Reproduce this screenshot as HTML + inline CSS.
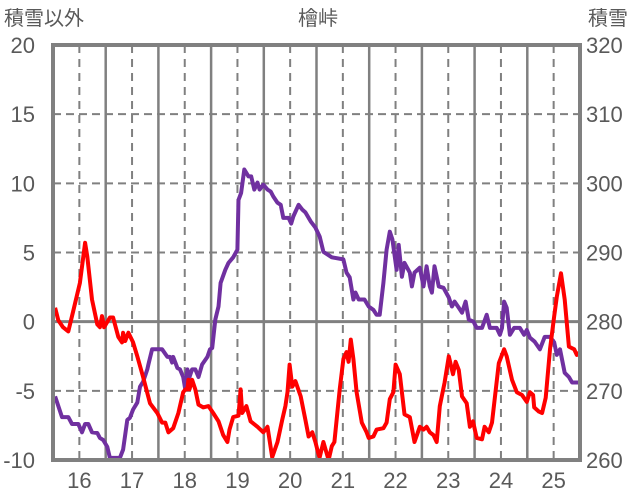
<!DOCTYPE html>
<html><head><meta charset="utf-8"><style>
html,body{margin:0;padding:0;background:#fff;}
svg{display:block;}
text{font-family:"Liberation Sans","Noto Sans CJK JP",sans-serif;fill:#595959;}
</style></head><body>
<svg id="chart" width="636" height="501" viewBox="0 0 636 501" xmlns="http://www.w3.org/2000/svg">
<text x="318" y="25" font-size="20" text-anchor="middle">檜峠</text>
<text x="4" y="25" font-size="20">積雪以外</text>
<text x="588" y="25" font-size="20">積雪</text>
<g id="grid"></g>
<g id="labels"></g>
<defs><clipPath id="clip"><rect x="53" y="45" width="527" height="415"/></clipPath></defs>
<g id="series" clip-path="url(#clip)"></g>
<rect x="53" y="45" width="527" height="415" fill="none" stroke="#808080" stroke-width="4"/>
</svg>
<script>
const leftTicks=[20,15,10,5,0,-5,-10];
const rightTicks=[320,310,300,290,280,270,260];
const dayLabels=[16,17,18,19,20,21,22,23,24,25];
const redDays=[15.54,15.60,15.69,15.79,15.88,16.01,16.11,16.15,16.24,16.34,16.39,16.43,16.47,16.58,16.64,16.74,16.81,16.83,16.87,16.93,17.02,17.10,17.21,17.34,17.48,17.57,17.63,17.69,17.78,17.88,17.97,18.01,18.05,18.07,18.09,18.14,18.20,18.26,18.35,18.45,18.54,18.64,18.73,18.81,18.85,18.92,19.02,19.06,19.09,19.17,19.25,19.38,19.49,19.57,19.66,19.76,19.85,19.91,19.95,19.99,20.04,20.10,20.20,20.29,20.35,20.42,20.48,20.54,20.56,20.63,20.73,20.79,20.84,20.94,21.01,21.07,21.11,21.15,21.20,21.26,21.36,21.45,21.49,21.58,21.64,21.77,21.83,21.89,21.96,22.00,22.08,22.12,22.17,22.27,22.36,22.46,22.53,22.59,22.65,22.72,22.78,22.84,22.93,23.01,23.09,23.14,23.20,23.26,23.35,23.41,23.47,23.54,23.64,23.69,23.77,23.83,23.96,24.06,24.11,24.21,24.30,24.40,24.49,24.55,24.61,24.63,24.72,24.78,24.85,24.93,25.01,25.06,25.14,25.21,25.29,25.39,25.44,25.50];
const redValues=[1.0,0.1,-0.4,-0.7,0.7,2.8,5.7,4.7,1.6,-0.2,-0.4,0.4,-0.4,0.3,0.3,-1.1,-1.5,-0.8,-1.4,-0.8,-1.5,-2.5,-4.0,-5.9,-6.6,-7.3,-7.3,-8.0,-7.7,-6.6,-5.1,-4.9,-4.9,-4.2,-4.9,-4.2,-4.9,-6.0,-6.2,-6.1,-6.6,-7.2,-8.2,-8.7,-7.8,-6.9,-6.8,-4.9,-6.6,-6.1,-7.2,-7.6,-8.0,-7.6,-9.8,-8.7,-7.1,-6.1,-5.1,-3.1,-4.7,-4.3,-5.4,-7.1,-8.3,-8.0,-8.7,-9.6,-9.8,-8.7,-10,-9.0,-8.7,-4.9,-2.7,-2.2,-2.9,-1.3,-2.7,-5.1,-7.3,-8.0,-8.4,-8.3,-7.8,-7.7,-7.3,-5.6,-5.1,-3.1,-3.8,-5.1,-6.7,-6.9,-8.7,-7.6,-7.8,-7.6,-8.0,-8.2,-8.7,-6.1,-4.4,-2.5,-3.8,-2.9,-3.5,-5.4,-5.9,-7.6,-7.2,-8.4,-8.5,-7.6,-8.0,-7.3,-3.0,-2.0,-2.5,-4.2,-5.1,-5.3,-5.8,-5.1,-5.3,-6.2,-6.5,-6.6,-5.5,-2.0,0.4,1.8,3.5,1.6,-1.8,-2.0,-2.4,-2.2];
const snowDays=[15.54,15.67,15.79,15.86,15.98,16.05,16.11,16.17,16.24,16.34,16.39,16.45,16.53,16.58,16.77,16.83,16.91,16.96,17.02,17.10,17.15,17.21,17.29,17.31,17.38,17.57,17.67,17.72,17.76,17.78,17.86,17.91,17.97,18.01,18.05,18.09,18.14,18.20,18.26,18.33,18.43,18.48,18.52,18.58,18.64,18.68,18.77,18.83,18.92,19.00,19.02,19.07,19.13,19.21,19.26,19.32,19.38,19.42,19.49,19.57,19.63,19.68,19.76,19.82,19.87,19.97,20.02,20.06,20.16,20.23,20.29,20.39,20.48,20.56,20.63,20.79,21.01,21.07,21.13,21.20,21.24,21.30,21.41,21.49,21.58,21.64,21.70,21.77,21.83,21.89,21.94,21.98,22.02,22.06,22.12,22.17,22.27,22.31,22.36,22.46,22.53,22.59,22.65,22.69,22.74,22.82,22.91,23.01,23.07,23.12,23.20,23.26,23.33,23.39,23.48,23.54,23.64,23.73,23.79,23.92,23.98,24.02,24.06,24.11,24.17,24.25,24.36,24.44,24.49,24.55,24.64,24.74,24.83,24.93,25.01,25.06,25.12,25.21,25.29,25.35,25.50];
const snowValues=[269.2,266.2,266.2,265.2,265.2,264.0,265.2,265.2,264.0,263.9,263.2,262.9,261.9,260.3,260.3,261.5,265.8,266.1,267.3,268.3,270.6,271.3,273.1,273.8,276.0,276.0,274.9,274.9,274.1,274.9,273.3,273.1,272.0,270.2,273.1,272.0,273.1,273.1,272.0,273.8,274.9,276.0,276.2,280.3,282.2,285.6,287.5,288.5,289.3,290.4,297.6,298.6,302.0,301.0,301.0,299.1,300.1,299.1,299.8,299.1,298.8,298.1,297.2,296.9,295.0,295.0,294.2,295.2,296.9,296.2,295.8,294.5,293.6,292.3,290.1,289.3,289.0,287.1,286.4,283.2,284.2,283.2,283.2,282.2,281.7,281.0,281.0,285.6,290.4,293.0,291.9,289.7,287.5,291.1,286.5,288.5,287.1,285.1,287.1,287.8,285.1,288.0,285.1,284.2,288.0,285.1,284.9,283.5,282.2,282.9,282.0,281.3,282.9,280.3,280.0,279.1,279.1,281.0,279.1,279.1,278.1,279.1,282.9,282.0,278.1,279.1,279.1,278.1,278.8,277.7,277.1,276.0,277.8,277.8,277.0,275.2,276.0,272.6,272.0,271.2,271.2];

const X0=53,X1=580,Y0=460,Y1=45;
const xs=d=>X0+(d-15.5)/10*(X1-X0);
const yl=v=>Y0-(v+10)/30*(Y0-Y1);
const yr=v=>Y0-(v-260)/60*(Y0-Y1);
const NS='http://www.w3.org/2000/svg';
function mk(tag,attrs,parent){const e=document.createElementNS(NS,tag);for(const k in attrs)e.setAttribute(k,attrs[k]);parent.appendChild(e);return e;}
const grid=document.getElementById('grid'),labels=document.getElementById('labels'),series=document.getElementById('series');
leftTicks.forEach(t=>{
  const y=yl(t);
  const l=mk('line',{x1:X0,x2:X1,y1:y,y2:y,stroke:'#808080','stroke-width':t===0?3:2,'stroke-dasharray':t===0?'none':'8,5'},grid);
  
  
  const tx=mk('text',{x:35,y:y+8,'font-size':22,'text-anchor':'end'},labels);
  tx.textContent=t;
  
  
});
rightTicks.forEach(t=>{
  const tx=mk('text',{x:586,y:yr(t)+8,'font-size':22},labels);
  tx.textContent=t;
  
  
});
dayLabels.forEach(d=>{
  const x=xs(d);
  const l=mk('line',{x1:x,x2:x,y1:Y1,y2:Y0,stroke:'#808080','stroke-width':2,'stroke-dasharray':'8,6'},grid);
  
  
  if(d+0.5<25.5){const xm=xs(d+0.5);
    const s=mk('line',{x1:xm,x2:xm,y1:Y1,y2:Y0,stroke:'#808080','stroke-width':2.5},grid);
    
    }
  const tx=mk('text',{x:x,y:488,'font-size':22,'text-anchor':'middle'},labels);
  tx.textContent=d;
  
  
});
{const xm=xs(15.5+0);} 
const pS=snowDays.map((d,i)=>xs(d).toFixed(1)+','+yr(snowValues[i]).toFixed(1)).join(' ');
const ps=mk('polyline',{points:pS,fill:'none',stroke:'#7030a0','stroke-width':4,'stroke-linejoin':'round'},series);


const pR=redDays.map((d,i)=>xs(d).toFixed(1)+','+yl(redValues[i]).toFixed(1)).join(' ');
const pr=mk('polyline',{points:pR,fill:'none',stroke:'#ff0000','stroke-width':4,'stroke-linejoin':'round'},series);


</script>
</body></html>
